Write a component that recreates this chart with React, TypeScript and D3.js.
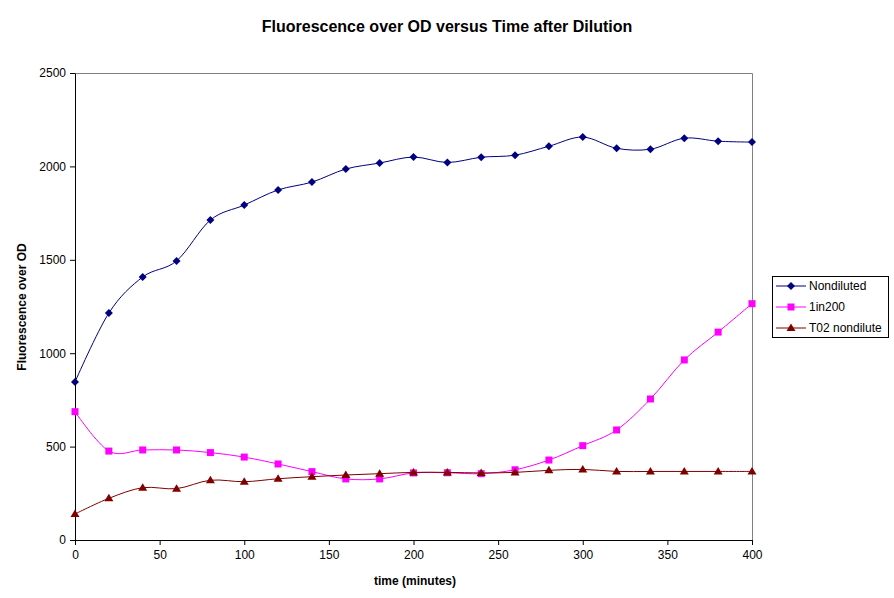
import * as d3 from "d3";
import { useEffect, useRef } from "react";

const times = [0, 20, 40, 60, 80, 100, 120, 140, 160, 180, 200, 220, 240, 260, 280, 300, 320, 340, 360, 380, 400];
const nondiluted = [846, 1215, 1408, 1494, 1713, 1793, 1874, 1916, 1986, 2018, 2050, 2021, 2049, 2060, 2108, 2157, 2097, 2092, 2151, 2135, 2130];
const oneIn200 = [687, 476, 482, 482, 468, 444, 407, 366, 327, 327, 359, 360, 355, 376, 428, 505, 589, 755, 964, 1113, 1265];
const t02 = [139, 223, 280, 275, 320, 312, 328, 339, 348, 355, 362, 362, 359, 362, 373, 378, 367, 367, 367, 367, 367];
const xTicks = [0, 50, 100, 150, 200, 250, 300, 350, 400];
const yTicks = [0, 500, 1000, 1500, 2000, 2500];

const series = [
  { name: "Nondiluted", values: nondiluted, color: "#000080", marker: "diamond" },
  { name: "1in200", values: oneIn200, color: "#FF00FF", marker: "square" },
  { name: "T02 nondilute", values: t02, color: "#800000", marker: "triangle" },
];

const font = "Arial, 'Liberation Sans', sans-serif";

function App() {
  const ref = useRef<SVGSVGElement>(null);

  useEffect(() => {
    const svg = d3.select(ref.current);
    svg.selectAll("*").remove();

    const left = 75, right = 752, top = 73, bottom = 540;
    const x = d3.scaleLinear().domain([0, 400]).range([left, right]);
    const y = d3.scaleLinear().domain([0, 2500]).range([bottom, top]);

    svg.append("rect").attr("width", 894).attr("height", 598).attr("fill", "white");

    // title
    svg.append("text")
      .attr("x", 447).attr("y", 32)
      .attr("text-anchor", "middle")
      .attr("font-family", font).attr("font-weight", "bold").attr("font-size", 16)
      .text("Fluorescence over OD versus Time after Dilution");

    // plot frame (top and right in grey)
    svg.append("path")
      .attr("d", `M${left},${top + 0.5}H${right + 0.5}V${bottom}`)
      .attr("fill", "none").attr("stroke", "#808080").attr("stroke-width", 1);

    // axes
    const xAxis = svg.append("g")
      .attr("transform", `translate(0,${bottom})`)
      .call(d3.axisBottom(x).tickValues(xTicks).tickFormat(d3.format("d")).tickSize(5).tickSizeOuter(0).tickPadding(5));
    const yAxis = svg.append("g")
      .attr("transform", `translate(${left},0)`)
      .call(d3.axisLeft(y).tickValues(yTicks).tickFormat(d3.format("d")).tickSize(5).tickSizeOuter(0).tickPadding(4));
    [xAxis, yAxis].forEach((g) => {
      g.selectAll("path,line").attr("stroke", "black");
      g.selectAll("text").attr("font-family", font).attr("font-size", 12).attr("fill", "black");
    });

    // axis titles
    svg.append("text")
      .attr("x", 415).attr("y", 585)
      .attr("text-anchor", "middle")
      .attr("font-family", font).attr("font-weight", "bold").attr("font-size", 12)
      .text("time (minutes)");
    svg.append("text")
      .attr("transform", `translate(26,307) rotate(-90)`)
      .attr("text-anchor", "middle")
      .attr("font-family", font).attr("font-weight", "bold").attr("font-size", 12)
      .text("Fluorescence over OD");

    const line = d3.line<number>()
      .x((_, i) => x(times[i]))
      .y((d) => y(d))
      .curve(d3.curveCardinal.tension(0));

    const drawMarker = (g: d3.Selection<SVGGElement, unknown, null, undefined>, kind: string, cx: number, cy: number, color: string) => {
      if (kind === "diamond") {
        g.append("path").attr("d", `M${cx},${cy - 4}L${cx + 4},${cy}L${cx},${cy + 4}L${cx - 4},${cy}Z`).attr("fill", color);
      } else if (kind === "square") {
        g.append("rect").attr("x", cx - 3.5).attr("y", cy - 3.5).attr("width", 7).attr("height", 7).attr("fill", color);
      } else {
        g.append("path").attr("d", `M${cx},${cy - 4.5}L${cx + 4.5},${cy + 3}L${cx - 4.5},${cy + 3}Z`).attr("fill", color);
      }
    };

    series.forEach((s) => {
      const g = svg.append("g");
      g.append("path").attr("d", line(s.values)).attr("fill", "none").attr("stroke", s.color).attr("stroke-width", 1);
      s.values.forEach((v, i) => drawMarker(g as any, s.marker, x(times[i]), y(v), s.color));
    });

    // legend
    const lg = svg.append("g");
    lg.append("rect").attr("x", 772.5).attr("y", 276.5).attr("width", 116).attr("height", 61)
      .attr("fill", "white").attr("stroke", "black");
    series.forEach((s, i) => {
      const ly = 286 + i * 21;
      lg.append("line").attr("x1", 776).attr("x2", 806).attr("y1", ly).attr("y2", ly).attr("stroke", s.color);
      drawMarker(lg as any, s.marker, 791, ly, s.color);
      lg.append("text").attr("x", 809).attr("y", ly + 4)
        .attr("font-family", font).attr("font-size", 12).text(s.name);
    });
  }, []);

  return <svg ref={ref} width={894} height={598} style={{ position: "absolute", left: 0, top: 0 }} />;
}

export default App;
